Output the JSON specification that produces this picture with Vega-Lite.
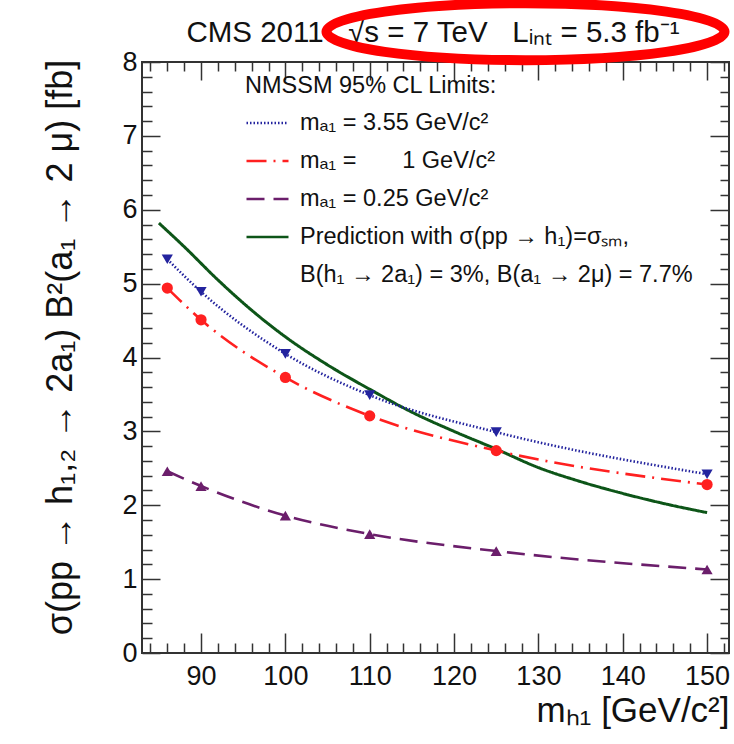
{
  "$schema": "https://vega.github.io/schema/vega-lite/v6.json",
  "width": 587,
  "height": 591,
  "autosize": {"type": "none"},
  "padding": {"left": 142, "top": 62, "right": 5, "bottom": 91},
  "background": "white",
  "config": {
    "view": {"stroke": "#333333", "strokeWidth": 2},
    "font": "Liberation Sans",
    "axis": {"domain": false, "grid": false, "tickColor": "#333333", "tickWidth": 1.5, "labelColor": "#111111", "titleColor": "#111111", "labelFont": "Liberation Sans", "titleFont": "Liberation Sans", "titleFontWeight": "normal"}
  },
  "data": {
    "values": [
      {"s": "mₐ₁ = 3.55 GeV/c²", "m": 86, "v": 5.33},
      {"s": "mₐ₁ = 3.55 GeV/c²", "m": 90, "v": 4.89},
      {"s": "mₐ₁ = 3.55 GeV/c²", "m": 100, "v": 4.05},
      {"s": "mₐ₁ = 3.55 GeV/c²", "m": 110, "v": 3.49},
      {"s": "mₐ₁ = 3.55 GeV/c²", "m": 125, "v": 2.99},
      {"s": "mₐ₁ = 3.55 GeV/c²", "m": 150, "v": 2.42},
      {"s": "mₐ₁ =\u2007\u2008\u2007\u20071 GeV/c²", "m": 86, "v": 4.94},
      {"s": "mₐ₁ =\u2007\u2008\u2007\u20071 GeV/c²", "m": 90, "v": 4.51},
      {"s": "mₐ₁ =\u2007\u2008\u2007\u20071 GeV/c²", "m": 100, "v": 3.73},
      {"s": "mₐ₁ =\u2007\u2008\u2007\u20071 GeV/c²", "m": 110, "v": 3.21},
      {"s": "mₐ₁ =\u2007\u2008\u2007\u20071 GeV/c²", "m": 125, "v": 2.74},
      {"s": "mₐ₁ =\u2007\u2008\u2007\u20071 GeV/c²", "m": 150, "v": 2.28},
      {"s": "mₐ₁ = 0.25 GeV/c²", "m": 86, "v": 2.46},
      {"s": "mₐ₁ = 0.25 GeV/c²", "m": 90, "v": 2.26},
      {"s": "mₐ₁ = 0.25 GeV/c²", "m": 100, "v": 1.86},
      {"s": "mₐ₁ = 0.25 GeV/c²", "m": 110, "v": 1.61},
      {"s": "mₐ₁ = 0.25 GeV/c²", "m": 125, "v": 1.38},
      {"s": "mₐ₁ = 0.25 GeV/c²", "m": 150, "v": 1.13},
      {"s": "Prediction with σ(pp → h₁)=σₛₘ,", "m": 85, "v": 5.82},
      {"s": "Prediction with σ(pp → h₁)=σₛₘ,", "m": 88, "v": 5.5},
      {"s": "Prediction with σ(pp → h₁)=σₛₘ,", "m": 92, "v": 5.05},
      {"s": "Prediction with σ(pp → h₁)=σₛₘ,", "m": 96, "v": 4.64},
      {"s": "Prediction with σ(pp → h₁)=σₛₘ,", "m": 100, "v": 4.28},
      {"s": "Prediction with σ(pp → h₁)=σₛₘ,", "m": 105, "v": 3.9},
      {"s": "Prediction with σ(pp → h₁)=σₛₘ,", "m": 110, "v": 3.57},
      {"s": "Prediction with σ(pp → h₁)=σₛₘ,", "m": 115, "v": 3.26},
      {"s": "Prediction with σ(pp → h₁)=σₛₘ,", "m": 120, "v": 3.0},
      {"s": "Prediction with σ(pp → h₁)=σₛₘ,", "m": 125, "v": 2.76},
      {"s": "Prediction with σ(pp → h₁)=σₛₘ,", "m": 130, "v": 2.51},
      {"s": "Prediction with σ(pp → h₁)=σₛₘ,", "m": 135, "v": 2.32},
      {"s": "Prediction with σ(pp → h₁)=σₛₘ,", "m": 140, "v": 2.16},
      {"s": "Prediction with σ(pp → h₁)=σₛₘ,", "m": 145, "v": 2.02},
      {"s": "Prediction with σ(pp → h₁)=σₛₘ,", "m": 150, "v": 1.9}
    ]
  },
  "layer": [
    {
      "transform": [{"filter": {"field": "s", "oneOf": ["Prediction with σ(pp → h₁)=σₛₘ,"]}}],
      "mark": {"type": "line", "interpolate": "monotone", "strokeWidth": 3},
      "encoding": {
        "x": {"field": "m", "type": "quantitative",
          "scale": {"domain": [83, 152.6], "nice": false, "zero": false},
          "axis": {"orient": "bottom", "values": [90, 100, 110, 120, 130, 140, 150], "tickSize": -20, "labelFontSize": 27, "labelPadding": 30, "labelFlush": false,
            "title": "mₕ₁ [GeV/c²]", "titleFontSize": 35, "titleX": 587, "titleY": 68, "titleAlign": "right", "titleAnchor": "end", "titleBaseline": "alphabetic"}},
        "y": {"field": "v", "type": "quantitative",
          "scale": {"domain": [0, 8], "nice": false, "zero": false},
          "axis": {"orient": "left", "values": [0, 1, 2, 3, 4, 5, 6, 7, 8], "tickSize": -18, "labelFontSize": 27, "labelPadding": 23, "labelFlush": false,
            "title": "σ(pp → h₁,₂ → 2a₁) B²(a₁ → 2 μ) [fb]", "titleFontSize": 36, "titleX": -82, "titleY": 285, "titleAngle": -90, "titleAlign": "center", "titleBaseline": "middle"}},
        "color": {"field": "s", "type": "nominal",
          "scale": {"domain": ["mₐ₁ = 3.55 GeV/c²", "mₐ₁ =\u2007\u2008\u2007\u20071 GeV/c²", "mₐ₁ = 0.25 GeV/c²", "Prediction with σ(pp → h₁)=σₛₘ,", "B(h₁ → 2a₁) = 3%, B(a₁ → 2μ) = 7.7%"],
            "range": ["#23239e", "#ff2020", "#6b1e6b", "#0d5518", "rgba(0,0,0,0)"]},
          "legend": {"orient": "none", "legendX": 103, "legendY": 12, "title": "NMSSM 95% CL Limits:", "titleFontSize": 23.5, "titleFontWeight": "normal", "titleFont": "Liberation Sans", "titleColor": "#111111", "titlePadding": 3, "titleLimit": 600,
            "labelFontSize": 23.5, "labelFont": "Liberation Sans", "labelColor": "#111111", "labelLimit": 600, "symbolType": "stroke", "symbolSize": 1764, "symbolStrokeWidth": 2.5, "rowPadding": 4, "labelOffset": 10, "padding": 0}},
        "strokeDash": {"field": "s", "type": "nominal",
          "scale": {"domain": ["mₐ₁ = 3.55 GeV/c²", "mₐ₁ =\u2007\u2008\u2007\u20071 GeV/c²", "mₐ₁ = 0.25 GeV/c²", "Prediction with σ(pp → h₁)=σₛₘ,", "B(h₁ → 2a₁) = 3%, B(a₁ → 2μ) = 7.7%"],
            "range": [[1.5, 2], [20, 7, 2, 7], [18, 9], [1, 0], [1, 0]]},
          "legend": {"orient": "none", "legendX": 103, "legendY": 12, "title": "NMSSM 95% CL Limits:"}}
      }
    },
    {
      "transform": [{"filter": {"field": "s", "oneOf": ["mₐ₁ = 3.55 GeV/c²", "mₐ₁ =\u2007\u2008\u2007\u20071 GeV/c²", "mₐ₁ = 0.25 GeV/c²"]}}],
      "mark": {"type": "line", "interpolate": "monotone", "strokeWidth": 2.6},
      "encoding": {
        "x": {"field": "m", "type": "quantitative",
          "axis": {"orient": "bottom", "values": [84, 86, 88, 92, 94, 96, 98, 102, 104, 106, 108, 112, 114, 116, 118, 122, 124, 126, 128, 132, 134, 136, 138, 142, 144, 146, 148, 152], "tickSize": -10, "labels": false, "title": null}},
        "y": {"field": "v", "type": "quantitative",
          "axis": {"orient": "left", "values": [0.2, 0.4, 0.6, 0.8, 1.2, 1.4, 1.6, 1.8, 2.2, 2.4, 2.6, 2.8, 3.2, 3.4, 3.6, 3.8, 4.2, 4.4, 4.6, 4.8, 5.2, 5.4, 5.6, 5.8, 6.2, 6.4, 6.6, 6.8, 7.2, 7.4, 7.6, 7.8], "tickSize": -10, "labels": false, "title": null}},
        "color": {"field": "s", "type": "nominal"},
        "strokeDash": {"field": "s", "type": "nominal"}
      }
    },
    {
      "transform": [{"filter": {"field": "s", "oneOf": ["mₐ₁ = 3.55 GeV/c²", "mₐ₁ =\u2007\u2008\u2007\u20071 GeV/c²", "mₐ₁ = 0.25 GeV/c²"]}}],
      "mark": {"type": "point", "filled": true, "opacity": 1, "size": 125},
      "encoding": {
        "x": {"field": "m", "type": "quantitative",
          "axis": {"orient": "top", "values": [90, 100, 110, 120, 130, 140, 150], "tickSize": -18, "labels": false, "title": null}},
        "y": {"field": "v", "type": "quantitative",
          "axis": {"orient": "right", "values": [0, 1, 2, 3, 4, 5, 6, 7, 8], "tickSize": -19, "labels": false, "title": null}},
        "color": {"field": "s", "type": "nominal", "legend": null},
        "shape": {"field": "s", "type": "nominal",
          "scale": {"domain": ["mₐ₁ = 3.55 GeV/c²", "mₐ₁ =\u2007\u2008\u2007\u20071 GeV/c²", "mₐ₁ = 0.25 GeV/c²"], "range": ["triangle-down", "circle", "triangle-up"]},
          "legend": null}
      }
    },
    {
      "data": {"values": [{"t": "CMS 2011\u00a0\u00a0\u00a0√s = 7 TeV\u00a0\u00a0\u00a0Lᵢₙₜ = 5.3 fb⁻¹"}]},
      "mark": {"type": "text", "fontSize": 29.5, "fontWeight": "normal", "font": "Liberation Sans", "color": "#111111", "align": "center", "baseline": "alphabetic", "clip": false},
      "encoding": {
        "text": {"field": "t"},
        "x": {"datum": 117.5, "type": "quantitative", "axis": null},
        "y": {"datum": 8.27, "type": "quantitative", "axis": null}
      }
    },
    {
      "data": {"values": [{"t": "annotation"}]},
      "mark": {"type": "point", "shape": "M -1 0 A 1 0.143 0 1 1 1 0 A 1 0.143 0 1 1 -1 0 Z", "size": 158404, "filled": false, "stroke": "#ff0000", "strokeWidth": 10, "opacity": 1, "clip": false},
      "encoding": {
        "x": {"datum": 128.47, "type": "quantitative",
          "axis": {"orient": "top", "values": [84, 86, 88, 92, 94, 96, 98, 102, 104, 106, 108, 112, 114, 116, 118, 122, 124, 126, 128, 132, 134, 136, 138, 142, 144, 146, 148, 152], "tickSize": -9, "labels": false, "title": null}},
        "y": {"datum": 8.41, "type": "quantitative",
          "axis": {"orient": "right", "values": [0.2, 0.4, 0.6, 0.8, 1.2, 1.4, 1.6, 1.8, 2.2, 2.4, 2.6, 2.8, 3.2, 3.4, 3.6, 3.8, 4.2, 4.4, 4.6, 4.8, 5.2, 5.4, 5.6, 5.8, 6.2, 6.4, 6.6, 6.8, 7.2, 7.4, 7.6, 7.8], "tickSize": -9, "labels": false, "title": null}}
      }
    }
  ],
  "resolve": {"axis": {"x": "independent", "y": "independent"}}
}
